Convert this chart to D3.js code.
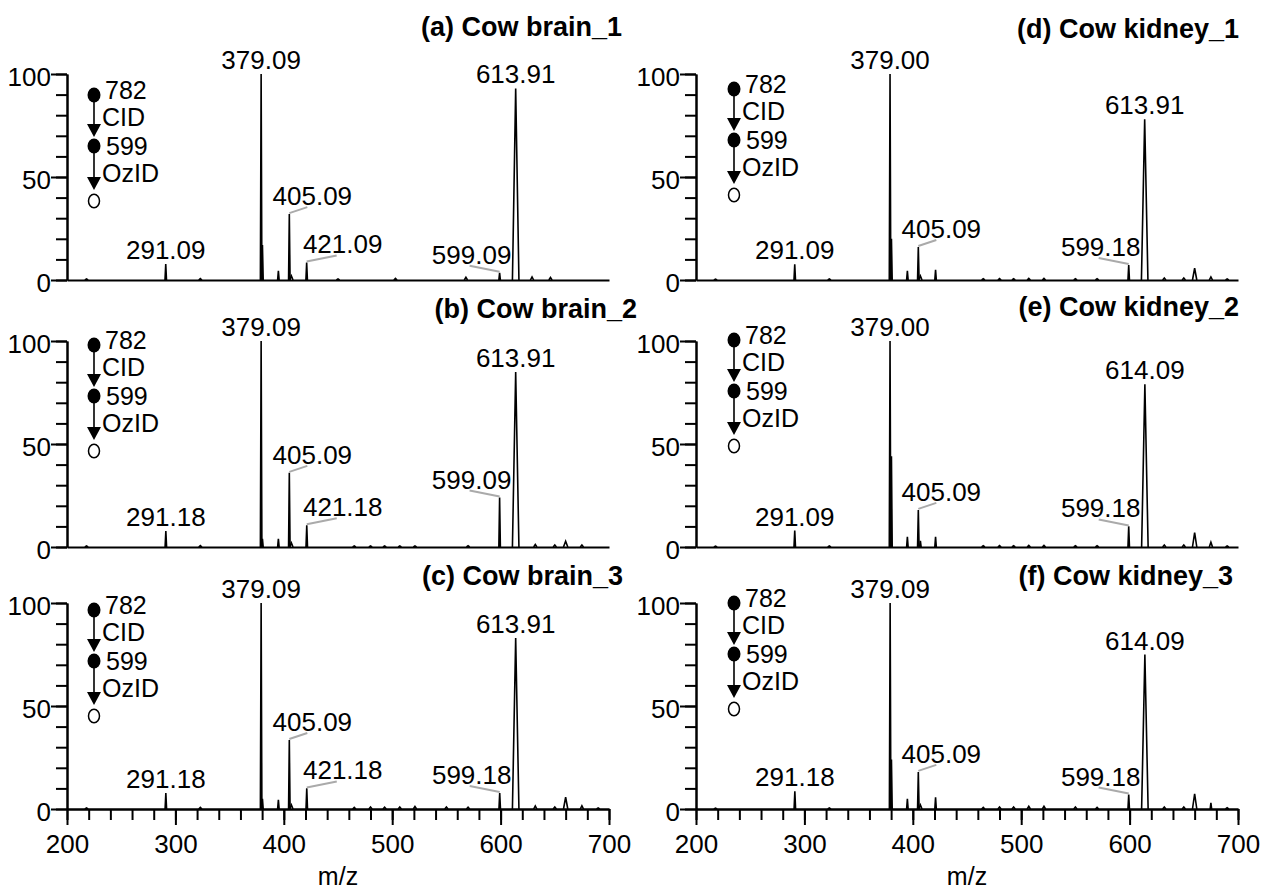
<!DOCTYPE html>
<html>
<head>
<meta charset="utf-8">
<script src="https://cdn.jsdelivr.net/npm/d3@7"></script>
<style>
  body { margin: 0; background: #fff; }
  text { font-family: "Liberation Sans", Arial, sans-serif; }
</style>
</head>
<body>
<div id="chart"></div>
<script>
const width = 1263
const height = 890

const panelNames = ['(a) Cow brain_1', '(b) Cow brain_2', '(c) Cow brain_3',
  '(d) Cow kidney_1', '(e) Cow kidney_2', '(f) Cow kidney_3']
const xTicks = [200, 300, 400, 500, 600, 700]
const yTicks = [0, 50, 100]
const stages = ['782', 'CID', '599', 'OzID']

// peaks: [m/z, relative intensity %]
const peaksA = [[218, 0.5], [291.09, 7.8], [323, 0.7], [379.09, 100], [380.3, 17], [395, 4.5],
  [405.09, 32], [407, 2], [421.09, 8.5], [450, 0.5], [503, 0.8], [568, 1.3], [599.09, 3.5],
  [613.91, 93], [629, 1.5], [646, 1.2]]
const peaksB = [[218, 0.5], [291.18, 7.7], [323, 0.7], [379.09, 100], [380.3, 4], [395, 4],
  [405.09, 36], [407, 2], [421.18, 10.6], [465, 0.5], [480, 0.5], [493, 0.5], [507, 0.5],
  [521, 0.5], [570, 0.6], [599.09, 24], [613.91, 85], [632, 1.2], [650, 1], [660, 2.8], [675, 1]]
const peaksC = [[218, 0.5], [291.18, 7.8], [323, 0.8], [379.09, 100], [380.3, 5], [395, 4.4],
  [405.09, 33.5], [407, 2], [421.18, 10], [465, 0.8], [480, 1], [493, 0.9], [507, 1], [521, 1.2],
  [550, 1], [570, 0.9], [599.18, 7.8], [613.91, 83], [632, 1.5], [650, 1], [660, 5.7], [675, 1.6], [690, 0.5]]
const peaksD = [[218, 0.4], [291.09, 7.6], [323, 0.5], [379.0, 100], [380.3, 20], [395, 4.4],
  [405.09, 16], [407, 2], [421, 5], [465, 0.6], [480, 0.7], [493, 0.6], [507, 0.8], [521, 0.8],
  [550, 0.6], [570, 0.6], [599.18, 7.3], [613.91, 78], [632, 1], [650, 1], [660, 5.7], [675, 1.5], [690, 0.5]]
const peaksE = [[218, 0.4], [291.09, 8], [323, 0.5], [379.0, 100], [380.3, 44], [395, 5],
  [405.09, 18], [407, 3], [421, 5], [465, 0.6], [480, 0.7], [493, 0.6], [507, 0.8], [521, 0.8],
  [550, 0.6], [570, 0.6], [599.18, 10], [614.09, 79], [632, 1], [650, 1], [660, 7], [675, 2.3], [690, 0.5]]
const peaksF = [[218, 0.4], [291.18, 8.6], [323, 0.5], [379.09, 100], [380.3, 24], [395, 5],
  [405.09, 18], [407, 2], [421, 5.7], [465, 0.8], [480, 1], [493, 1], [507, 1.3], [521, 1.3],
  [550, 1], [570, 0.8], [599.18, 7], [614.09, 75], [632, 1], [650, 1], [660, 7.4], [675, 3], [690, 0.6]]

// labels: [text, placement]
const labelsA = [['291.09', 'top'], ['379.09', 'top'], ['405.09', 'right'], ['421.09', 'far'], ['599.09', 'left'], ['613.91', 'top']]
const labelsB = [['291.18', 'top'], ['379.09', 'top'], ['405.09', 'right'], ['421.18', 'far'], ['599.09', 'left'], ['613.91', 'top']]
const labelsC = [['291.18', 'top'], ['379.09', 'top'], ['405.09', 'right'], ['421.18', 'far'], ['599.18', 'left'], ['613.91', 'top']]
const labelsD = [['291.09', 'top'], ['379.00', 'top'], ['405.09', 'right'], ['599.18', 'left'], ['613.91', 'top']]
const labelsE = [['291.09', 'top'], ['379.00', 'top'], ['405.09', 'right'], ['599.18', 'left'], ['614.09', 'top']]
const labelsF = [['291.18', 'top'], ['379.09', 'top'], ['405.09', 'right'], ['599.18', 'left'], ['614.09', 'top']]

const peakSets = [peaksA, peaksB, peaksC, peaksD, peaksE, peaksF]
const labelSets = [labelsA, labelsB, labelsC, labelsD, labelsE, labelsF]

// layout
const colX = [67, 696]
const plotW = 542
const rowY = [74, 341, 603]
const plotH = 206
const titleRight = [622, 637, 623, 1239, 1239, 1233]
const titleBase = [36, 318, 585, 38, 316, 585]
const legendDx = [27, 27, 27, 38, 38, 38]
const legendDy = [21, 4, 7, 15, -1, 0]
const fontStack = '"Liberation Sans", Arial, sans-serif'

const svg = d3.select('#chart')
  .append('svg')
  .attr('width', width)
  .attr('height', height)

function halfWidth(mz, h) {
  if (mz > 605 && mz < 625) return 3
  if (mz > 655 && mz < 665) return 2
  if (h < 3) return 1.5
  return 0.7
}

function styleAxis(g, size) {
  g.attr('font-family', fontStack).attr('font-size', size)
  g.selectAll('path, line').attr('stroke', '#000').attr('stroke-width', 2)
  g.selectAll('text').attr('fill', '#000')
}

function drawPanel(i) {
  const col = Math.floor(i / 3)
  const row = i % 3
  const x0 = colX[col]
  const top = rowY[row]
  const bottom = top + plotH
  const isBottom = row === 2

  const x = d3.scaleLinear().domain([200, 700]).range([x0, x0 + plotW])
  const y = d3.scaleLinear().domain([0, 100]).range([bottom, top])
  const g = svg.append('g')

  // x axis
  if (isBottom) {
    g.append('g')
      .attr('transform', `translate(0,${bottom})`)
      .call(d3.axisBottom(x).tickValues(d3.range(200, 701, 20)).tickSize(11).tickSizeOuter(0).tickFormat(''))
      .call(styleAxis, 26)
    g.append('g')
      .attr('transform', `translate(0,${bottom})`)
      .call(d3.axisBottom(x).tickValues(xTicks).tickSize(16).tickSizeOuter(0).tickPadding(10))
      .call(styleAxis, 26)
    g.append('text')
      .attr('x', x0 + plotW / 2)
      .attr('y', 885)
      .attr('text-anchor', 'middle')
      .attr('font-size', 25)
      .text('m/z')
  } else {
    g.append('g')
      .attr('transform', `translate(0,${bottom})`)
      .call(d3.axisBottom(x).tickValues([]).tickSizeOuter(0))
      .call(styleAxis, 26)
  }

  // y axis
  g.append('g')
    .attr('transform', `translate(${x0},0)`)
    .call(d3.axisLeft(y).tickValues(d3.range(0, 101, 10)).tickSize(11).tickSizeOuter(0).tickFormat(''))
    .call(styleAxis, 26)
  const yAxis = g.append('g')
    .attr('transform', `translate(${x0},0)`)
    .call(d3.axisLeft(y).tickValues(yTicks).tickSize(16).tickSizeOuter(0).tickPadding(0))
    .call(styleAxis, 26)
  yAxis.selectAll('text').attr('dy', '0.45em')

  // spectrum peaks
  const line = d3.line().x((d) => x(d[0])).y((d) => y(d[1]))
  const peaks = peakSets[i]
  g.append('g')
    .selectAll('path')
    .data(peaks)
    .enter()
    .append('path')
    .attr('d', (d) => {
      const w = halfWidth(d[0], d[1])
      return line([[d[0] - w, 0], [d[0], d[1]], [d[0] + w, 0]])
    })
    .attr('fill', 'none')
    .attr('stroke', '#000')
    .attr('stroke-width', 1.6)
    .attr('stroke-linejoin', 'miter')

  // peak labels
  labelSets[i].forEach(([text, place]) => {
    const mz = parseFloat(text)
    const pk = peaks.reduce((a, b) => (Math.abs(b[0] - mz) < Math.abs(a[0] - mz) ? b : a))
    const px = x(pk[0])
    const py = y(pk[1])
    let tx = px
    let ty = py - 5
    if (place !== 'top') {
      const dx = place === 'right' ? 18 : place === 'far' ? 30 : -30
      g.append('line')
        .attr('x1', px).attr('y1', py - 1)
        .attr('x2', px + dx).attr('y2', py - 7)
        .attr('stroke', '#aaa')
        .attr('stroke-width', 2)
      tx = place === 'right' ? px + 23 : place === 'far' ? px + 36 : px - 28
      ty = py - 9
    }
    g.append('text')
      .attr('x', tx)
      .attr('y', ty)
      .attr('text-anchor', 'middle')
      .attr('font-size', 26)
      .text(text)
  })

  // title
  g.append('text')
    .attr('x', titleRight[i])
    .attr('y', titleBase[i])
    .attr('text-anchor', 'end')
    .attr('font-size', 27)
    .attr('font-weight', 'bold')
    .text(panelNames[i])

  // CID / OzID scheme
  const cx = x0 + legendDx[i]
  const cy = top + legendDy[i]
  const lg = g.append('g')
  lg.append('line').attr('x1', cx).attr('x2', cx).attr('y1', cy).attr('y2', cy + 31)
    .attr('stroke', '#000').attr('stroke-width', 1.6)
  lg.append('line').attr('x1', cx).attr('x2', cx).attr('y1', cy + 51).attr('y2', cy + 84)
    .attr('stroke', '#000').attr('stroke-width', 1.6)
  ;[42, 95].forEach((tip) => {
    lg.append('path')
      .attr('d', `M${cx - 7},${cy + tip - 13}L${cx + 7},${cy + tip - 13}L${cx},${cy + tip}Z`)
      .attr('fill', '#000')
  })
  ;[0, 51].forEach((dy) => {
    lg.append('ellipse')
      .attr('cx', cx).attr('cy', cy + dy)
      .attr('rx', 6.5).attr('ry', 7.5)
      .attr('fill', '#000')
  })
  lg.append('ellipse')
    .attr('cx', cx).attr('cy', cy + 106)
    .attr('rx', 5.5).attr('ry', 6.8)
    .attr('fill', 'none')
    .attr('stroke', '#000')
    .attr('stroke-width', 1.5)
  const stagePos = [[11, 4], [8, 31], [12, 60], [8, 87]]
  stages.forEach((s, k) => {
    lg.append('text')
      .attr('x', cx + stagePos[k][0])
      .attr('y', cy + stagePos[k][1])
      .attr('font-size', 25)
      .text(s)
  })
}

for (let i = 0; i < 6; i++) drawPanel(i)
</script>
</body>
</html>
